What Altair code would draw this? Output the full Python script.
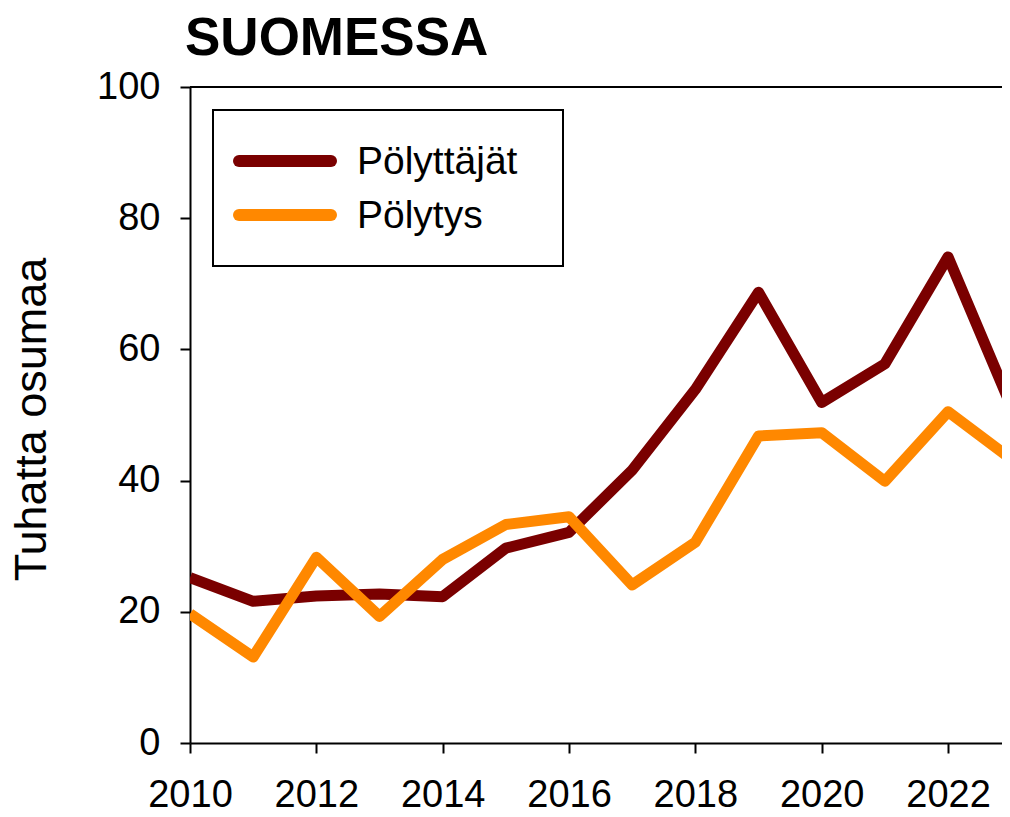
import altair as alt
import pandas as pd

years = list(range(2010, 2024))
polyttajat = [25.2, 21.6, 22.4, 22.7, 22.3, 29.7, 32.1, 41.6, 53.9, 68.7, 51.9, 57.8, 74.1, 51.3]
polytys = [19.7, 13.1, 28.3, 19.3, 28.0, 33.3, 34.5, 24.1, 30.6, 46.8, 47.3, 39.9, 50.5, 43.3]
series_names = ["Pölyttäjät", "Pölytys"]
series_colors = ["#7a0000", "#ff8800"]
x_ticks = list(range(2010, 2023, 2))
y_ticks = [0, 20, 40, 60, 80, 100]

FONT = "Liberation Sans"
W, H = 812, 656

df = pd.DataFrame({
    "year": years * 2,
    "value": polyttajat + polytys,
    "series": [series_names[0]] * len(years) + [series_names[1]] * len(years),
})

x_scale = alt.Scale(domain=[2010, 2010 + W / 63.17], nice=False, zero=False)
y_scale = alt.Scale(domain=[0, 100], nice=False)

lines = alt.Chart(df).mark_line(strokeWidth=11, strokeJoin="round", clip=True).encode(
    x=alt.X("year:Q", scale=x_scale,
            axis=alt.Axis(values=x_ticks, format="d", title=None, grid=False,
                          labelFontSize=38, labelFont=FONT, labelColor="black",
                          labelPadding=23, labelOverlap=False, labelFlush=False,
                          tickSize=10, tickWidth=2, tickColor="black",
                          domainColor="black", domainWidth=2)),
    y=alt.Y("value:Q", scale=y_scale,
            axis=alt.Axis(values=y_ticks, title="Tuhatta osumaa", grid=False,
                          labelFontSize=38, labelFont=FONT, labelColor="black",
                          labelPadding=20, labelOverlap=False, labelFlush=False,
                          tickSize=10, tickWidth=2, tickColor="black",
                          domainColor="black", domainWidth=2,
                          titleFont=FONT, titleFontSize=45, titleFontWeight="normal",
                          titleColor="black", titleX=-145, titleY=H / 2 + 4,
                          titleBaseline="alphabetic", titleAngle=270)),
    color=alt.Color("series:N", scale=alt.Scale(domain=series_names, range=series_colors), legend=None),
    detail="series:N",
)

legend_df = pd.DataFrame({"series": series_names})

top_border = alt.Chart(legend_df).mark_rule(color="black", strokeWidth=2).encode(
    x=alt.value(0), x2=alt.value(W), y=alt.value(0)
)

box = alt.Chart(legend_df.head(1)).mark_rect(fill="white", stroke="black", strokeWidth=2).encode(
    x=alt.value(23), x2=alt.value(373), y=alt.value(23), y2=alt.value(179)
)

legend_layers = []
for i, (name, col) in enumerate(zip(series_names, series_colors)):
    sub = legend_df[legend_df["series"] == name]
    yy = 74 + i * 54
    legend_layers.append(
        alt.Chart(sub).mark_rule(strokeWidth=12, strokeCap="round", color=col).encode(
            x=alt.value(49), x2=alt.value(141), y=alt.value(yy)
        )
    )
    legend_layers.append(
        alt.Chart(sub).mark_text(align="left", baseline="middle", fontSize=39, font=FONT,
                                 color="black", dy=1).encode(
            x=alt.value(167), y=alt.value(yy), text="series:N"
        )
    )

chart = alt.layer(lines, top_border, box, *legend_layers).properties(
    width=W, height=H,
    title=alt.TitleParams("SUOMESSA", anchor="start", frame="group", fontSize=53, font=FONT,
                          fontWeight="bold", color="black", offset=2, dx=-5),
    autosize=alt.AutoSizeParams(type="none"),
    padding={"left": 182, "top": 79, "right": 0, "bottom": 66},
).configure_view(strokeWidth=0, stroke="transparent").configure(background="white")

chart.save("out.html", embed_options={"renderer": "svg", "actions": False})
